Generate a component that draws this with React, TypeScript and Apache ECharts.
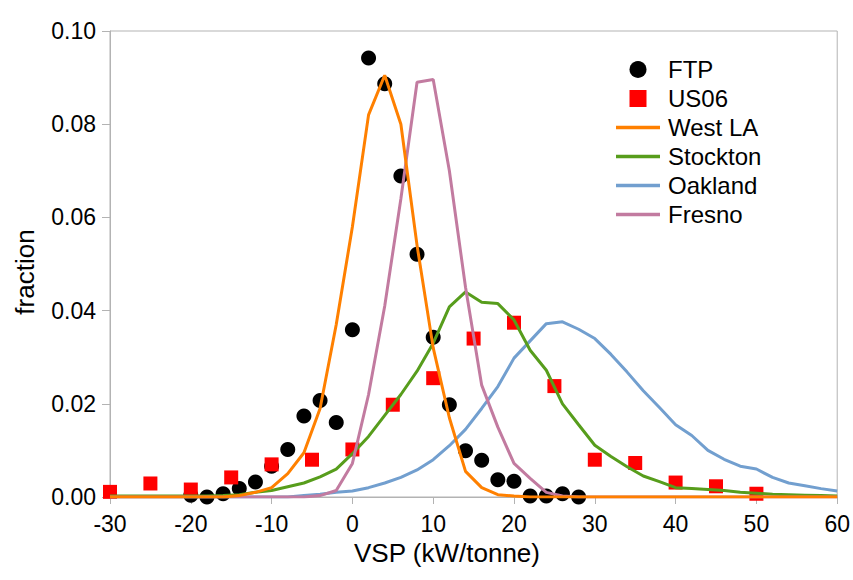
import React, { useEffect, useRef } from "react";
import * as echarts from "echarts";

// shared x grid for the four road-network curves
const lineX = [
  -30, -28, -26, -24, -22, -20, -18, -16, -14, -12, -10, -8, -6, -4, -2, 0, 2, 4, 6, 8, 10, 12, 14, 16,
  18, 20, 22, 24, 26, 28, 30, 32, 34, 36, 38, 40, 42, 44, 46, 48, 50, 52, 54, 56, 58, 60,
];

const westLA = [
  0, 0, 0, 0, 0, 0, 0, 0, 0.0003, 0.001, 0.002, 0.005, 0.0095, 0.019, 0.037, 0.058, 0.082, 0.0905, 0.08,
  0.054, 0.032, 0.017, 0.0055, 0.002, 0.0005, 0.0002, 0, 0, 0, 0, 0, 0, 0, 0, 0, 0, 0, 0, 0, 0, 0, 0, 0,
  0, 0, 0,
];

const stockton = [
  0.0002, 0.0002, 0.0002, 0.0002, 0.0002, 0.0002, 0.0002, 0.0003, 0.0005, 0.001, 0.0014, 0.0022, 0.003,
  0.0043, 0.006, 0.0093, 0.013, 0.0175, 0.022, 0.027, 0.033, 0.0408, 0.044, 0.0418, 0.0415, 0.038, 0.0315,
  0.0272, 0.02, 0.0155, 0.0111, 0.0087, 0.0065, 0.0045, 0.0033, 0.002, 0.0018, 0.0016, 0.0014, 0.001,
  0.0008, 0.0006, 0.0005, 0.0004, 0.0003, 0.0002,
];

const oakland = [
  0, 0, 0, 0, 0, 0, 0, 0, 0, 0, 0, 0, 0.0003, 0.0006, 0.001, 0.0013, 0.002, 0.003, 0.0042, 0.0058, 0.008,
  0.011, 0.0145, 0.019, 0.0237, 0.0298, 0.0335, 0.0372, 0.0376, 0.036, 0.034, 0.0306, 0.0268, 0.0228,
  0.0192, 0.0155, 0.0132, 0.01, 0.0081, 0.0066, 0.006, 0.0042, 0.003, 0.0024, 0.0018, 0.0013,
];

const fresno = [
  0, 0, 0, 0, 0, 0, 0, 0, 0, 0, 0, 0, 0, 0.0003, 0.0014, 0.0072, 0.022, 0.041, 0.064, 0.089, 0.0896, 0.07,
  0.045, 0.024, 0.015, 0.0072, 0.004, 0.001, 0.0002, 0, 0, 0, 0, 0, 0, 0, 0, 0, 0, 0, 0, 0, 0, 0, 0, 0,
];

const ftpX = [-20, -18, -16, -14, -12, -10, -8, -6, -4, -2, 0, 2, 4, 6, 8, 10, 12, 14, 16, 18, 20, 22, 24, 26, 28];
const ftpY = [
  0.0004, 0, 0.0007, 0.0018, 0.0032, 0.0066, 0.0102, 0.0174, 0.0207, 0.016, 0.0359, 0.0942, 0.0887,
  0.0689, 0.0521, 0.0343, 0.0198, 0.0099, 0.0079, 0.0037, 0.0034, 0.0002, 0.0002, 0.0007, 0,
];

const us06X = [-30, -25, -20, -15, -10, -5, 0, 5, 10, 15, 20, 25, 30, 35, 40, 45, 50];
const us06Y = [
  0.0011, 0.0029, 0.0016, 0.0042, 0.007, 0.008, 0.0102, 0.0198, 0.0255, 0.034, 0.0374, 0.0238, 0.008,
  0.0073, 0.0031, 0.0023, 0.0007,
];

const FONT = "Liberation Sans";
const AXIS_COLOR = "#b3b3b3";
// legend glyphs: a flat bar for the lines, a square for US06
const LINE_ICON = "path://M0 0H44V3.5H0Z";
const SQUARE_ICON = "path://M0 0H10V10H0Z";

const pairs = (xs: number[], ys: number[]) => xs.map((x, i) => [x, ys[i]]);

const lineSeries = (name: string, ys: number[], color: string) => ({
  name,
  type: "line",
  data: pairs(lineX, ys),
  symbol: "none",
  showSymbol: false,
  lineStyle: { color, width: 3 },
  itemStyle: { color },
});

const App: React.FC = () => {
  const chartRef = useRef<HTMLDivElement>(null);

  useEffect(() => {
    document.body.style.margin = "0";
    if (!chartRef.current) return;
    const chart = echarts.init(chartRef.current, undefined, { renderer: "svg" });

    chart.setOption({
      animation: false,
      textStyle: { fontFamily: FONT },
      grid: {
        left: 110,
        right: 11,
        top: 31,
        bottom: 83,
        show: true,
        borderColor: AXIS_COLOR,
        borderWidth: 1,
      },
      xAxis: {
        type: "value",
        min: -30,
        max: 60,
        interval: 10,
        axisLine: { onZero: false, lineStyle: { color: AXIS_COLOR } },
        axisTick: { length: 7, lineStyle: { color: AXIS_COLOR } },
        axisLabel: { color: "#000", fontSize: 23, margin: 15, fontFamily: FONT },
        splitLine: { show: false },
      },
      yAxis: {
        type: "value",
        min: 0,
        max: 0.1,
        interval: 0.02,
        axisLine: { show: true, onZero: false, lineStyle: { color: AXIS_COLOR } },
        axisTick: { show: true, length: 8, lineStyle: { color: AXIS_COLOR } },
        axisLabel: {
          color: "#000",
          fontSize: 23,
          margin: 14,
          fontFamily: FONT,
          formatter: (v: number) => v.toFixed(2),
        },
        splitLine: { show: false },
      },
      legend: {
        orient: "vertical",
        left: 616,
        top: 55,
        padding: 0,
        itemGap: 0,
        itemWidth: 44,
        itemHeight: 17,
        textStyle: { fontSize: 24, lineHeight: 29, color: "#000", fontFamily: FONT, padding: [0, 0, 0, 3] },
        data: [
          { name: "FTP", icon: "circle" },
          { name: "US06", icon: SQUARE_ICON },
          { name: "West LA", icon: LINE_ICON },
          { name: "Stockton", icon: LINE_ICON },
          { name: "Oakland", icon: LINE_ICON },
          { name: "Fresno", icon: LINE_ICON },
        ],
      },
      graphic: [
        {
          type: "text",
          x: 25,
          y: 272,
          rotation: Math.PI / 2,
          style: {
            text: "fraction",
            fontSize: 26,
            fontFamily: FONT,
            fill: "#000",
            align: "center",
            verticalAlign: "middle",
          },
        },
        {
          type: "text",
          x: 447,
          y: 553,
          style: {
            text: "VSP (kW/tonne)",
            fontSize: 26,
            fontFamily: FONT,
            fill: "#000",
            align: "center",
            verticalAlign: "middle",
          },
        },
      ],
      series: [
        lineSeries("Oakland", oakland, "#729fcf"),
        lineSeries("Stockton", stockton, "#579d1c"),
        lineSeries("Fresno", fresno, "#c27ba0"),
        lineSeries("West LA", westLA, "#ff8000"),
        {
          name: "FTP",
          type: "scatter",
          symbol: "circle",
          symbolSize: 15,
          itemStyle: { color: "#000", opacity: 1 },
          data: pairs(ftpX, ftpY),
        },
        {
          name: "US06",
          type: "scatter",
          symbol: "rect",
          symbolSize: 14,
          itemStyle: { color: "#ff0000", opacity: 1 },
          data: pairs(us06X, us06Y),
        },
      ],
    });

    return () => {
      chart.dispose();
    };
  }, []);

  return <div ref={chartRef} style={{ width: "853px", height: "580px" }} />;
};

export default App;
